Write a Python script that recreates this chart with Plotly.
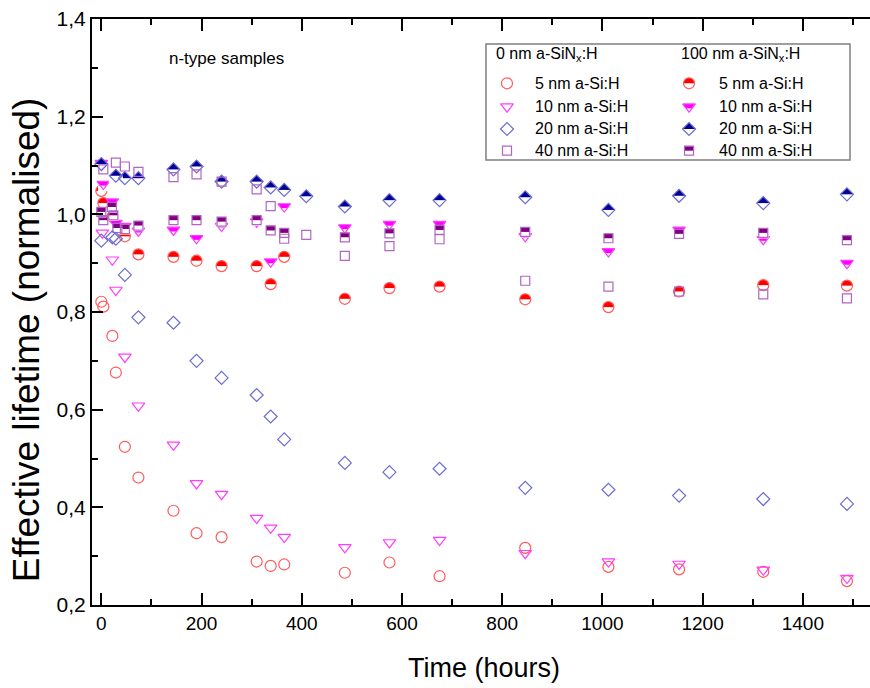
import plotly.graph_objects as go

# ---------------- data ----------------
# 0 nm a-SiNx:H (open symbols)
t_c0 = [0, 4, 22, 29, 47, 74, 144, 190, 240, 310, 338, 365, 486, 575, 675, 846, 1012, 1153, 1321, 1488]
v_c0 = [0.821, 0.811, 0.751, 0.676, 0.524, 0.461, 0.393, 0.347, 0.339, 0.289, 0.280, 0.283, 0.266, 0.287, 0.259, 0.317, 0.278, 0.273, 0.268, 0.249]
t_t0 = [2, 22, 29, 47, 74, 144, 190, 240, 310, 338, 365, 486, 575, 675, 846, 1012, 1153, 1321, 1488]
v_t0 = [0.962, 0.907, 0.845, 0.708, 0.608, 0.528, 0.449, 0.427, 0.378, 0.358, 0.339, 0.318, 0.328, 0.333, 0.306, 0.289, 0.284, 0.272, 0.255]
t_d0 = [0, 22, 29, 47, 74, 144, 190, 240, 310, 338, 365, 486, 575, 675, 846, 1012, 1153, 1321, 1488]
v_d0 = [0.946, 0.953, 0.950, 0.876, 0.789, 0.778, 0.700, 0.665, 0.630, 0.586, 0.539, 0.491, 0.472, 0.479, 0.440, 0.436, 0.424, 0.417, 0.407]
t_s0 = [4, 29, 47, 74, 144, 190, 240, 310, 338, 365, 409, 486, 575, 675, 846, 1012, 1153, 1321, 1488]
v_s0 = [1.092, 1.106, 1.098, 1.087, 1.076, 1.082, 1.067, 1.051, 1.017, 0.950, 0.958, 0.915, 0.935, 0.949, 0.864, 0.852, 0.842, 0.836, 0.828]

# 100 nm a-SiNx:H (half-filled symbols)
t_c1 = [0, 4, 22, 47, 74, 144, 190, 240, 310, 338, 365, 486, 575, 675, 846, 1012, 1153, 1321, 1488]
v_c1 = [1.048, 1.023, 0.995, 0.955, 0.918, 0.913, 0.905, 0.894, 0.894, 0.857, 0.913, 0.827, 0.849, 0.852, 0.826, 0.810, 0.842, 0.855, 0.854]
t_t1 = [0, 4, 22, 29, 47, 74, 144, 190, 240, 310, 338, 365, 486, 575, 675, 846, 1012, 1153, 1321, 1488]
v_t1 = [1.105, 1.062, 1.026, 0.982, 0.976, 0.966, 0.968, 0.951, 0.976, 0.985, 0.903, 1.016, 0.973, 0.980, 0.980, 0.955, 0.924, 0.968, 0.949, 0.900]
t_d1 = [0, 29, 47, 74, 144, 190, 240, 310, 338, 365, 409, 486, 575, 675, 846, 1012, 1153, 1321, 1488]
v_d1 = [1.103, 1.079, 1.074, 1.074, 1.092, 1.098, 1.067, 1.067, 1.055, 1.050, 1.037, 1.016, 1.029, 1.029, 1.035, 1.009, 1.038, 1.023, 1.041]
t_s1 = [0, 4, 21, 24, 32, 47, 74, 144, 190, 240, 310, 338, 365, 486, 575, 675, 846, 1012, 1153, 1321, 1488]
v_s1 = [1.005, 0.988, 1.015, 0.998, 0.972, 0.970, 0.977, 0.988, 0.988, 0.985, 0.988, 0.967, 0.962, 0.953, 0.961, 0.968, 0.964, 0.951, 0.960, 0.962, 0.947]

series_labels = ["5 nm a-Si:H", "10 nm a-Si:H", "20 nm a-Si:H", "40 nm a-Si:H"]
group_titles = ["0 nm a-SiN<sub>x</sub>:H", "100 nm a-SiN<sub>x</sub>:H"]

x_tickvals = [0, 200, 400, 600, 800, 1000, 1200, 1400]
x_ticktext = ["0", "200", "400", "600", "800", "1000", "1200", "1400"]
y_tickvals = [0.2, 0.4, 0.6, 0.8, 1.0, 1.2, 1.4]
y_ticktext = ["0,2", "0,4", "0,6", "0,8", "1,0", "1,2", "1,4"]

# ---------------- styles ----------------
LIGHT = ["#FF5A5A", "#FF3CFF", "#6C6CD0", "#B066C4"]
DARK = ["#FF0000", "#FF00FF", "#000096", "#800080"]
SYM = ["circle", "triangle-down", "diamond", "square"]
SIZE = [11, 11, 10, 9]
# white cover (to make the lower part open): (top offset px, height px, line-ew size)
COVER = [(0.0, 6.6, 8.8), (1.6, 5.6, 7.5), (0.0, 7.6, 10.0), (0.0, 5.6, 7.4)]

fig = go.Figure()


def add_open(x, y, k, xa="x", ya="y"):
    fig.add_trace(go.Scatter(
        x=x, y=y, mode="markers", xaxis=xa, yaxis=ya, hoverinfo="skip",
        marker=dict(symbol=SYM[k] + "-open", size=SIZE[k], color=LIGHT[k],
                    line=dict(width=1.2, color=LIGHT[k]))))


def add_half(x, y, k, xa="x", ya="y"):
    fig.add_trace(go.Scatter(
        x=x, y=y, mode="markers", xaxis=xa, yaxis=ya, hoverinfo="skip",
        marker=dict(symbol=SYM[k], size=SIZE[k], color=DARK[k], line=dict(width=0))))
    top, h, ln = COVER[k]
    fig.add_trace(go.Scatter(
        x=x, y=y, mode="markers", xaxis=xa, yaxis=ya, hoverinfo="skip",
        marker=dict(symbol="line-ew", size=ln, color="white", angle=0,
                    standoff=top + h / 2.0, line=dict(width=h, color="white"))))
    add_open(x, y, k, xa, ya)


half_sets = [(t_c1, v_c1), (t_t1, v_t1), (t_d1, v_d1), (t_s1, v_s1)]
open_sets = [(t_c0, v_c0), (t_t0, v_t0), (t_d0, v_d0), (t_s0, v_s0)]
for k, (tt, vv) in enumerate(half_sets):
    add_half(tt, vv, k)
for k, (tt, vv) in enumerate(open_sets):
    add_open(tt, vv, k)

# ---------------- custom two-column legend (overlay axes 0..1) ----------------
leg_x_sym = [0.5334, 0.7674]
leg_x_txt = [0.5668, 0.8033]
leg_x_head = [0.5164, 0.7545]
leg_rows = [0.8903, 0.8503, 0.8123, 0.7753]
leg_head_y = 0.9386

for k in range(4):
    add_open([leg_x_sym[0]], [leg_rows[k]], k, "x2", "y2")
    add_half([leg_x_sym[1]], [leg_rows[k]], k, "x2", "y2")

annotations = []
for c in range(2):
    annotations.append(dict(x=leg_x_head[c], y=leg_head_y, xref="paper", yref="paper",
                            text=group_titles[c], showarrow=False, xanchor="left", align="left",
                            width=160, yanchor="middle", font=dict(size=16)))
    for k in range(4):
        annotations.append(dict(x=leg_x_txt[c], y=leg_rows[k], xref="paper", yref="paper",
                                text=series_labels[k], showarrow=False, xanchor="left",
                                yanchor="middle", font=dict(size=16)))

annotations.append(dict(x=0.0964, y=0.9334, xref="paper", yref="paper", text="n-type samples",
                        showarrow=False, xanchor="left", yanchor="middle", font=dict(size=17)))
annotations.append(dict(x=0.504, y=-0.107, xref="paper", yref="paper", text="Time (hours)",
                        showarrow=False, xanchor="center", yanchor="middle", font=dict(size=27)))
annotations.append(dict(x=-0.0848, y=0.452, xref="paper", yref="paper",
                        text="Effective lifetime (normalised)", textangle=-90,
                        showarrow=False, xanchor="center", yanchor="middle", font=dict(size=37)))

fig.update_layout(
    width=870, height=688,
    margin=dict(l=92, r=0, t=19, b=83),
    plot_bgcolor="white", paper_bgcolor="white", showlegend=False,
    font=dict(family="Liberation Sans, Arial, sans-serif", color="black"),
    annotations=annotations,
    shapes=[dict(type="rect", xref="paper", yref="paper", x0=0.5064, x1=0.9743,
                 y0=0.7594, y1=0.9573, line=dict(color="#7F7F7F", width=1.5))],
    xaxis=dict(range=[-18.6, 1534], tickmode="array", tickvals=x_tickvals, ticktext=x_ticktext,
               ticks="inside", ticklen=12, tickwidth=2, tickcolor="black",
               showline=True, linewidth=2, linecolor="black", mirror="ticks",
               showgrid=False, zeroline=False, tickfont=dict(size=19),
               minor=dict(tickmode="linear", tick0=0, dtick=100, ticks="inside",
                          ticklen=6, tickwidth=2, tickcolor="black", showgrid=False)),
    yaxis=dict(range=[0.2, 1.4], tickmode="array", tickvals=y_tickvals, ticktext=y_ticktext,
               ticks="inside", ticklen=11, tickwidth=2, tickcolor="black",
               showline=True, linewidth=2, linecolor="black", mirror=False,
               showgrid=False, zeroline=False, tickfont=dict(size=21),
               minor=dict(tickmode="linear", tick0=0.2, dtick=0.1, ticks="inside",
                          ticklen=6, tickwidth=2, tickcolor="black", showgrid=False)),
    xaxis2=dict(range=[0, 1], overlaying="x", visible=False, fixedrange=True),
    yaxis2=dict(range=[0, 1], overlaying="y", visible=False, fixedrange=True),
)

fig.write_html("out.html")
